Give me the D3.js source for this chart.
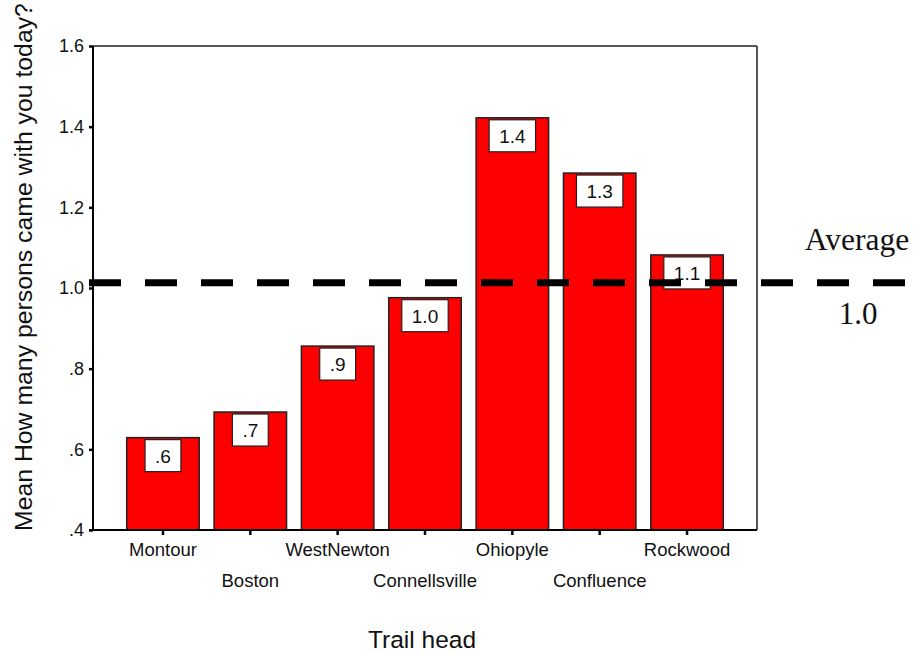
<!DOCTYPE html>
<html><head><meta charset="utf-8">
<script src="https://cdn.jsdelivr.net/npm/d3@7"></script>
<style>body{margin:0;background:#fff}svg{display:block}</style>
</head><body>
<script>
const categories = ["Montour","Boston","WestNewton","Connellsville","Ohiopyle","Confluence","Rockwood"];
const values = [0.629,0.6925,0.856,0.976,1.422,1.285,1.082];
const yTicks = [0.4,0.6,0.8,1.0,1.2,1.4,1.6];
const yTickLabels = [".4",".6",".8","1.0","1.2","1.4","1.6"];
const averageValue = 1.013;
const averageLabel = "1.0";

const W = 916, H = 652;
const svg = d3.select("body").append("svg").attr("width",W).attr("height",H);
const L = 93, R = 757, T = 46, B = 530;
const x = d3.scaleBand().domain(categories).range([L,R]).paddingInner(0.17).paddingOuter(0.386);
const y = d3.scaleLinear().domain([0.4,1.6]).range([B,T]);
const fmt = v => d3.format(".1f")(v).replace(/^0\./,".");
const sans = "Arial, 'Liberation Sans', sans-serif";
const serif = "'Times New Roman', 'Liberation Serif', serif";

// frame
svg.append("line").attr("x1",L).attr("x2",R).attr("y1",T).attr("y2",T).attr("stroke","#222").attr("stroke-width",1.5);
svg.append("line").attr("x1",R).attr("x2",R).attr("y1",T).attr("y2",B).attr("stroke","#555").attr("stroke-width",2);

// bars
svg.selectAll("rect.bar").data(values).join("rect").attr("class","bar")
  .attr("x",(d,i)=>x(categories[i])).attr("width",x.bandwidth())
  .attr("y",d=>y(d)).attr("height",d=>y(0.4)-y(d))
  .attr("fill","#ff0000").attr("stroke","#222").attr("stroke-width",1.5);

// value labels
const lg = svg.selectAll("g.lab").data(values).join("g").attr("class","lab");
lg.each(function(d,i){
  const g = d3.select(this);
  const cx = x(categories[i]) + x.bandwidth()/2;
  const t = g.append("text").attr("x",cx).attr("y",y(d)+2+16+7)
    .attr("text-anchor","middle").attr("font-family",sans).attr("font-size",19).attr("fill","#111").text(fmt(d));
  const w = t.node().getComputedTextLength() + 20;
  g.insert("rect","text").attr("x",cx-w/2).attr("y",y(d)+2).attr("width",w).attr("height",32)
    .attr("fill","#fff").attr("stroke","#222").attr("stroke-width",1.2);
});

// y axis
const yAxis = d3.axisLeft(y).tickValues(yTicks).tickFormat((d,i)=>yTickLabels[i]).tickSize(4).tickPadding(5);
const ya = svg.append("g").attr("transform",`translate(${L},0)`).call(yAxis);
ya.select(".domain").attr("stroke","#000").attr("stroke-width",2).attr("d",`M0,${B+1}V${T}`);
ya.selectAll(".tick line").attr("stroke","#000").attr("stroke-width",2.5);
ya.selectAll(".tick text").attr("font-family",sans).attr("font-size",18).attr("fill","#111");

// x axis
const xAxis = d3.axisBottom(x).tickSize(5).tickFormat("");
const xa = svg.append("g").attr("transform",`translate(0,${B})`).call(xAxis);
xa.select(".domain").attr("stroke","#000").attr("stroke-width",2).attr("d",`M${L-4},0H${R}`);
xa.selectAll(".tick line").attr("stroke","#000").attr("stroke-width",2.5);
svg.selectAll("text.cat").data(categories).join("text").attr("class","cat")
  .attr("x",d=>x(d)+x.bandwidth()/2).attr("y",(d,i)=>i%2===0?556:587)
  .attr("text-anchor","middle").attr("font-family",sans).attr("font-size",18.5).attr("fill","#111").text(d=>d);

// axis titles
svg.append("text").attr("x",(L+R)/2-3).attr("y",648).attr("text-anchor","middle")
  .attr("font-family",sans).attr("font-size",24.5).attr("fill","#111").text("Trail head");
svg.append("text").attr("transform",`translate(32,531) rotate(-90)`).attr("text-anchor","start")
  .attr("font-family",sans).attr("font-size",24.8).attr("fill","#111").text("Mean How many persons came with you today?");

// average line
svg.append("line").attr("x1",89).attr("x2",905).attr("y1",y(averageValue)).attr("y2",y(averageValue))
  .attr("stroke","#000").attr("stroke-width",7).attr("stroke-dasharray","32,24");
svg.append("text").attr("x",857).attr("y",250).attr("text-anchor","middle")
  .attr("font-family",serif).attr("font-size",31.5).attr("fill","#111").text("Average");
svg.append("text").attr("x",858).attr("y",324).attr("text-anchor","middle")
  .attr("font-family",serif).attr("font-size",31).attr("fill","#111").text(averageLabel);
</script>
</body></html>
